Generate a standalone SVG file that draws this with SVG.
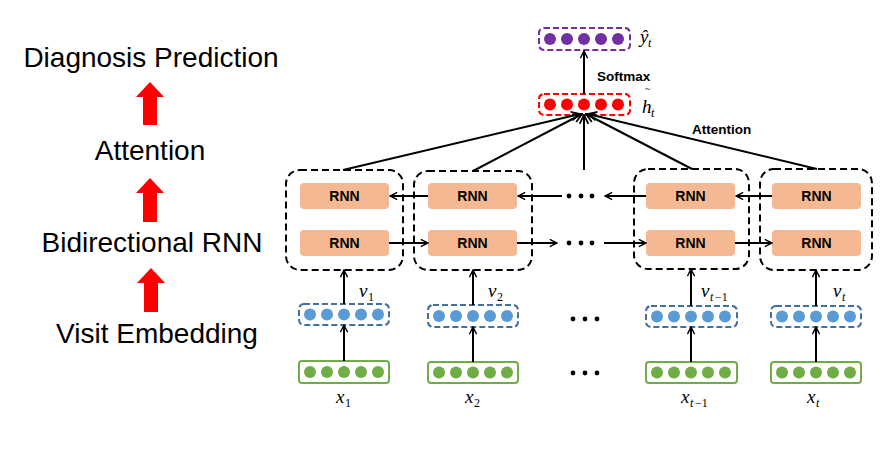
<svg xmlns="http://www.w3.org/2000/svg" width="889" height="462" viewBox="0 0 889 462">
<defs>
<marker id="ah" viewBox="0 0 10 10" refX="9" refY="5" markerWidth="9" markerHeight="9" markerUnits="userSpaceOnUse" orient="auto">
<path d="M1,1 L9,5 L1,9" fill="none" stroke="#000" stroke-width="1.6"/>
</marker>
<marker id="ah2" viewBox="0 0 10 10" refX="9" refY="5" markerWidth="11" markerHeight="11" markerUnits="userSpaceOnUse" orient="auto">
<path d="M1,1 L9,5 L1,9" fill="none" stroke="#000" stroke-width="1.6"/>
</marker>
</defs>
<style>
.lbl{font-family:"Liberation Sans",Arial,sans-serif;font-size:28px;fill:#000;text-anchor:middle}
.rnn{fill:#F4B993}
.rt{font-family:"Liberation Sans",Arial,sans-serif;font-weight:bold;font-size:14px;fill:#000;text-anchor:middle}
.bt{font-family:"Liberation Sans",Arial,sans-serif;font-weight:bold;font-size:13.5px;fill:#000}
.grp{fill:none;stroke:#000;stroke-width:2;stroke-dasharray:7 4}
.gbox{fill:#fff;stroke:#70AD47;stroke-width:2}
.gd{fill:#70AD47}
.bbox{fill:#fff;stroke:#41719C;stroke-width:2;stroke-dasharray:6 3}
.bd{fill:#5B9BD5}
.rbox{fill:#fff;stroke:#FF0000;stroke-width:2;stroke-dasharray:6 3}
.rd{fill:#FF0000}
.pbox{fill:#fff;stroke:#7030A0;stroke-width:2;stroke-dasharray:6 3}
.pd{fill:#7030A0}
.m{font-family:"Liberation Serif","Times New Roman",serif;font-style:italic;font-size:19px;fill:#000}
.s{font-family:"Liberation Serif","Times New Roman",serif;font-style:italic;font-size:12px;fill:#000}
.sn{font-family:"Liberation Serif","Times New Roman",serif;font-size:12px;fill:#000}
.tl{font-family:"Liberation Serif","Times New Roman",serif;font-size:10px;fill:#000}
.ar{stroke:#000;stroke-width:2;fill:none;marker-end:url(#ah)}
.att{stroke:#000;stroke-width:2;fill:none;marker-end:url(#ah2)}
.red{fill:#FF0000}
.ell{fill:#000}
</style>

<g id="legend">
<text class="lbl" x="151" y="67">Diagnosis Prediction</text>
<polygon class="red" points="150,82 164,97 157,97 157,125 143,125 143,97 136,97"/>
<text class="lbl" x="150" y="160">Attention</text>
<polygon class="red" points="150,178 164,193 157,193 157,222 143,222 143,193 136,193"/>
<text class="lbl" x="152" y="252">Bidirectional RNN</text>
<polygon class="red" points="151,268 165,283 158,283 158,312 144,312 144,283 137,283"/>
<text class="lbl" x="157" y="343">Visit Embedding</text>
</g>

<g id="output-y">
<rect class="pbox" x="539" y="28" width="91" height="22" rx="5"/>
<circle class="pd" cx="550" cy="39" r="6"/>
<circle class="pd" cx="567" cy="39" r="6"/>
<circle class="pd" cx="584" cy="39" r="6"/>
<circle class="pd" cx="601" cy="39" r="6"/>
<circle class="pd" cx="618" cy="39" r="6"/>
<text class="m" x="640" y="43">ŷ</text>
<text class="s" x="648" y="47">t</text>
</g>

<g id="context-h">
<rect class="rbox" x="539" y="94" width="91" height="21" rx="5"/>
<circle class="rd" cx="550" cy="104.5" r="6"/>
<circle class="rd" cx="567" cy="104.5" r="6"/>
<circle class="rd" cx="584" cy="104.5" r="6"/>
<circle class="rd" cx="601" cy="104.5" r="6"/>
<circle class="rd" cx="618" cy="104.5" r="6"/>
<text class="m" x="642" y="113">h</text>
<text class="tl" x="645" y="92">~</text>
<text class="s" x="651" y="117">t</text>
</g>

<g id="labels">
<text class="bt" x="597" y="81">Softmax</text>
<text class="bt" x="692" y="134">Attention</text>
</g>

<g id="rnn-1">
<rect class="grp" x="286" y="170" width="117" height="100" rx="14"/>
<rect class="rnn" x="300" y="183" width="89" height="26" rx="4"/>
<text class="rt" x="344.5" y="201">RNN</text>
<rect class="rnn" x="300" y="230" width="89" height="26" rx="4"/>
<text class="rt" x="344.5" y="248">RNN</text>
</g>
<g id="rnn-2">
<rect class="grp" x="414" y="171" width="118" height="99" rx="14"/>
<rect class="rnn" x="428" y="183" width="89" height="26" rx="4"/>
<text class="rt" x="472.5" y="201">RNN</text>
<rect class="rnn" x="428" y="230" width="89" height="26" rx="4"/>
<text class="rt" x="472.5" y="248">RNN</text>
</g>
<g id="rnn-3">
<rect class="grp" x="634" y="169" width="115" height="100" rx="14"/>
<rect class="rnn" x="646" y="183" width="89" height="26" rx="4"/>
<text class="rt" x="690.5" y="201">RNN</text>
<rect class="rnn" x="646" y="230" width="89" height="26" rx="4"/>
<text class="rt" x="690.5" y="248">RNN</text>
</g>
<g id="rnn-4">
<rect class="grp" x="760" y="169" width="112" height="101" rx="14"/>
<rect class="rnn" x="772" y="183" width="89" height="26" rx="4"/>
<text class="rt" x="816.5" y="201">RNN</text>
<rect class="rnn" x="772" y="230" width="89" height="26" rx="4"/>
<text class="rt" x="816.5" y="248">RNN</text>
</g>

<g id="visit-1">
<rect class="bbox" x="299" y="304" width="90" height="21" rx="5"/>
<circle class="bd" cx="310" cy="314.5" r="6"/>
<circle class="bd" cx="327" cy="314.5" r="6"/>
<circle class="bd" cx="344" cy="314.5" r="6"/>
<circle class="bd" cx="361" cy="314.5" r="6"/>
<circle class="bd" cx="378" cy="314.5" r="6"/>
<text class="m" x="359" y="297">v</text><text class="sn" x="368" y="301">1</text>
<rect class="gbox" x="299" y="361" width="90" height="22" rx="3"/>
<circle class="gd" cx="310" cy="372" r="6"/>
<circle class="gd" cx="327" cy="372" r="6"/>
<circle class="gd" cx="344" cy="372" r="6"/>
<circle class="gd" cx="361" cy="372" r="6"/>
<circle class="gd" cx="378" cy="372" r="6"/>
<text class="m" x="336" y="403">x</text><text class="sn" x="345" y="407">1</text>
</g>
<g id="visit-2">
<rect class="bbox" x="428" y="305" width="90" height="22" rx="5"/>
<circle class="bd" cx="439" cy="316" r="6"/>
<circle class="bd" cx="456" cy="316" r="6"/>
<circle class="bd" cx="473" cy="316" r="6"/>
<circle class="bd" cx="490" cy="316" r="6"/>
<circle class="bd" cx="507" cy="316" r="6"/>
<text class="m" x="488" y="297">v</text><text class="sn" x="497" y="301">2</text>
<rect class="gbox" x="428" y="362" width="90" height="21" rx="3"/>
<circle class="gd" cx="439" cy="372.5" r="6"/>
<circle class="gd" cx="456" cy="372.5" r="6"/>
<circle class="gd" cx="473" cy="372.5" r="6"/>
<circle class="gd" cx="490" cy="372.5" r="6"/>
<circle class="gd" cx="507" cy="372.5" r="6"/>
<text class="m" x="465" y="403">x</text><text class="sn" x="474" y="407">2</text>
</g>
<g id="visit-3">
<rect class="bbox" x="646" y="306" width="91" height="21" rx="5"/>
<circle class="bd" cx="657" cy="316.5" r="6"/>
<circle class="bd" cx="674" cy="316.5" r="6"/>
<circle class="bd" cx="691" cy="316.5" r="6"/>
<circle class="bd" cx="708" cy="316.5" r="6"/>
<circle class="bd" cx="725" cy="316.5" r="6"/>
<text class="m" x="701" y="297">v</text><text class="s" x="710" y="301">t</text><text class="sn" x="715" y="301">−1</text>
<rect class="gbox" x="646" y="362" width="91" height="21" rx="3"/>
<circle class="gd" cx="657" cy="372.5" r="6"/>
<circle class="gd" cx="674" cy="372.5" r="6"/>
<circle class="gd" cx="691" cy="372.5" r="6"/>
<circle class="gd" cx="708" cy="372.5" r="6"/>
<circle class="gd" cx="725" cy="372.5" r="6"/>
<text class="m" x="681" y="403">x</text><text class="s" x="690" y="407">t</text><text class="sn" x="695" y="407">−1</text>
</g>
<g id="visit-4">
<rect class="bbox" x="771" y="306" width="90" height="21" rx="5"/>
<circle class="bd" cx="782" cy="316.5" r="6"/>
<circle class="bd" cx="799" cy="316.5" r="6"/>
<circle class="bd" cx="816" cy="316.5" r="6"/>
<circle class="bd" cx="833" cy="316.5" r="6"/>
<circle class="bd" cx="850" cy="316.5" r="6"/>
<text class="m" x="833" y="297">v</text><text class="s" x="842" y="301">t</text>
<rect class="gbox" x="771" y="362" width="90" height="21" rx="3"/>
<circle class="gd" cx="782" cy="372.5" r="6"/>
<circle class="gd" cx="799" cy="372.5" r="6"/>
<circle class="gd" cx="816" cy="372.5" r="6"/>
<circle class="gd" cx="833" cy="372.5" r="6"/>
<circle class="gd" cx="850" cy="372.5" r="6"/>
<text class="m" x="807" y="403">x</text><text class="s" x="816" y="407">t</text>
</g>

<g id="ellipses">
<circle class="ell" cx="569" cy="196" r="2.4"/><circle class="ell" cx="581" cy="196" r="2.4"/><circle class="ell" cx="592" cy="196" r="2.4"/>
<circle class="ell" cx="569" cy="243" r="2.4"/><circle class="ell" cx="581" cy="243" r="2.4"/><circle class="ell" cx="592" cy="243" r="2.4"/>
<circle class="ell" cx="573" cy="319" r="2.4"/><circle class="ell" cx="585" cy="319" r="2.4"/><circle class="ell" cx="597" cy="319" r="2.4"/>
<circle class="ell" cx="573" cy="373" r="2.4"/><circle class="ell" cx="585" cy="373" r="2.4"/><circle class="ell" cx="597" cy="373" r="2.4"/>
</g>

<g id="connectors">
<line class="ar" x1="584" y1="94" x2="584" y2="51"/>
<line class="att" x1="343" y1="170" x2="580" y2="114"/>
<line class="att" x1="473" y1="171" x2="582" y2="114"/>
<line class="att" x1="584" y1="170" x2="584" y2="115"/>
<line class="att" x1="692" y1="169" x2="586" y2="114"/>
<line class="att" x1="817" y1="169" x2="588" y2="114"/>
<line class="ar" x1="428" y1="196" x2="390" y2="196"/>
<line class="ar" x1="562" y1="196" x2="518" y2="196"/>
<line class="ar" x1="646" y1="196" x2="605" y2="196"/>
<line class="ar" x1="772" y1="196" x2="736" y2="196"/>
<line class="ar" x1="389" y1="243" x2="428" y2="243"/>
<line class="ar" x1="517" y1="243" x2="557" y2="243"/>
<line class="ar" x1="604" y1="243" x2="646" y2="243"/>
<line class="ar" x1="735" y1="243" x2="772" y2="243"/>
<line class="ar" x1="344" y1="361" x2="344" y2="325"/>
<line class="ar" x1="344" y1="304" x2="344" y2="270"/>
<line class="ar" x1="473" y1="362" x2="473" y2="327"/>
<line class="ar" x1="473" y1="305" x2="473" y2="270"/>
<line class="ar" x1="691" y1="362" x2="691" y2="327"/>
<line class="ar" x1="691" y1="306" x2="691" y2="269"/>
<line class="ar" x1="816" y1="362" x2="816" y2="327"/>
<line class="ar" x1="816" y1="306" x2="816" y2="270"/>
</g>
</svg>
